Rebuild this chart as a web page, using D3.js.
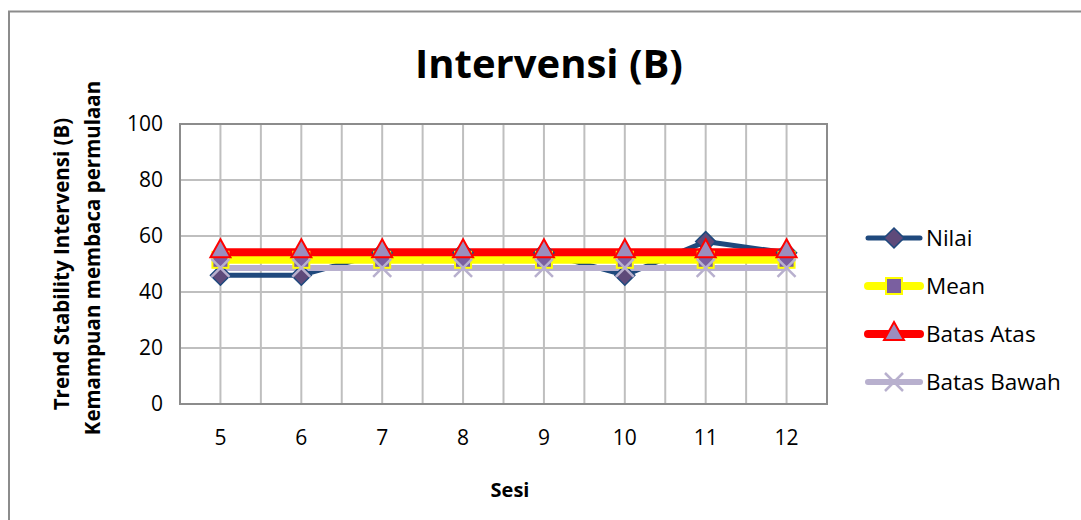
<!DOCTYPE html>
<html><head><meta charset="utf-8">
<script src="https://cdn.jsdelivr.net/npm/d3@7"></script>
<style>body{margin:0;background:#fff}svg{display:block}text{font-family:"Open Sans","Noto Sans",sans-serif}</style>
</head><body><svg id="c" width="1081" height="520"></svg>
<script>
const sessions = ["5","6","7","8","9","10","11","12"];
const nilai = [46, 46, 54, 54, 54, 46, 58, 54];
const mean = [51.5, 51.5, 51.5, 51.5, 51.5, 51.5, 51.5, 51.5];
const batasAtas = [54.2, 54.2, 54.2, 54.2, 54.2, 54.2, 54.2, 54.2];
const batasBawah = [48.6, 48.6, 48.6, 48.6, 48.6, 48.6, 48.6, 48.6];
const yTicks = [0, 20, 40, 60, 80, 100];
const seriesNames = ["Nilai", "Mean", "Batas Atas", "Batas Bawah"];

const svg = d3.select("#c");
const L = 180, R = 827, T = 124, B = 404;
const x = d3.scaleBand().domain(sessions).range([L, R]);
const y = d3.scaleLinear().domain([0, 100]).range([B, T]);

// outer border
svg.append("path").attr("d", `M9,525 L9,11.5 L1090,11.5`).attr("fill","none").attr("stroke","#8c8c8c").attr("stroke-width",2);

// gridlines
const g = svg.append("g");
const vx = [];
sessions.forEach((s,i)=>{ vx.push(x(s)); vx.push(x(s)+x.bandwidth()/2); });
vx.push(R);
vx.slice(1, vx.length-1).forEach(v=>{
  g.append("line").attr("x1",v).attr("x2",v).attr("y1",T).attr("y2",B).attr("stroke","#bfbfbf").attr("stroke-width",2);
});
yTicks.forEach(t=>{
  g.append("line").attr("x1",L).attr("x2",R).attr("y1",y(t)).attr("y2",y(t)).attr("stroke","#bfbfbf").attr("stroke-width",2);
});
svg.append("rect").attr("x",L).attr("y",T).attr("width",R-L).attr("height",B-T).attr("fill","none").attr("stroke","#8c8c8c").attr("stroke-width",2);

// axes labels via d3 axis
const yAxis = svg.append("g").attr("transform",`translate(${L},0)`).call(d3.axisLeft(y).tickValues(yTicks).tickSize(0).tickPadding(17));
yAxis.select(".domain").remove();
yAxis.selectAll("text").attr("font-size",21).attr("fill","#000").attr("font-family","'Open Sans','Noto Sans',sans-serif");
const xAxis = svg.append("g").attr("transform",`translate(0,${B})`).call(d3.axisBottom(x).tickSize(0).tickPadding(26));
xAxis.select(".domain").remove();
xAxis.selectAll("text").attr("font-size",21).attr("fill","#000").attr("font-family","'Open Sans','Noto Sans',sans-serif");

// titles
svg.append("text").attr("x",549).attr("y",78).attr("text-anchor","middle").attr("font-size",40).attr("font-weight","bold").text("Intervensi (B)");
svg.append("text").attr("x",510).attr("y",497).attr("text-anchor","middle").attr("font-size",20).attr("font-weight","bold").text("Sesi");
svg.append("text").attr("transform","translate(69,264) rotate(-90)").attr("text-anchor","middle").attr("font-size",20.5).attr("font-weight","bold").text("Trend Stability Intervensi (B)");
svg.append("text").attr("transform","translate(100,258) rotate(-90)").attr("text-anchor","middle").attr("font-size",20.5).attr("font-weight","bold").text("Kemampuan membaca permulaan");

const cx = s => x(s) + x.bandwidth()/2;
const line = d3.line().x((d,i)=>cx(sessions[i])).y(d=>y(d));

const styles = [
  {data:nilai, color:"#1F497D", w:5, marker:"diamond"},
  {data:mean, color:"#FFFF00", w:8, marker:"square"},
  {data:batasAtas, color:"#FF0000", w:8, marker:"triangle"},
  {data:batasBawah, color:"#B8B0CE", w:6, marker:"x"}
];

function drawMarker(sel, type, px, py) {
  if (type === "diamond") {
    sel.append("path").attr("d", `M${px},${py-10} L${px+10},${py} L${px},${py+10} L${px-10},${py} Z`)
      .attr("fill","#5E4A7A").attr("stroke","#1F497D").attr("stroke-width",1.5);
  } else if (type === "square") {
    sel.append("rect").attr("x",px-8).attr("y",py-8).attr("width",16).attr("height",16).attr("fill","#7A5FA0").attr("stroke","#FFFF00").attr("stroke-width",2);
  } else if (type === "triangle") {
    sel.append("path").attr("d",`M${px},${py-13} L${px+10},${py+5} L${px-10},${py+5} Z`).attr("fill","#9C8DBE").attr("stroke","#FF0000").attr("stroke-width",2);
  } else {
    sel.append("path").attr("d",`M${px-9},${py-9} L${px+9},${py+9} M${px-9},${py+9} L${px+9},${py-9}`).attr("stroke","#B8B0CE").attr("stroke-width",2.5);
  }
}

styles.forEach(st=>{
  svg.append("path").datum(st.data).attr("d",line).attr("fill","none").attr("stroke",st.color).attr("stroke-width",st.w).attr("stroke-linejoin","round");
});
styles.forEach(st=>{
  const mg = svg.append("g");
  st.data.forEach((v,i)=>drawMarker(mg, st.marker, cx(sessions[i]), y(v)));
});

// legend
seriesNames.forEach((n,i)=>{
  const ly = 238 + i*48;
  const st = styles[i];
  svg.append("line").attr("x1",868).attr("x2",920).attr("y1",ly).attr("y2",ly).attr("stroke",st.color).attr("stroke-width",st.w).attr("stroke-linecap","round");
  drawMarker(svg.append("g"), st.marker, 894, ly + (st.marker==="triangle"?1:0));
  svg.append("text").attr("x",926).attr("y",ly+8).attr("font-size",22.5).text(n);
});
</script></body></html>
